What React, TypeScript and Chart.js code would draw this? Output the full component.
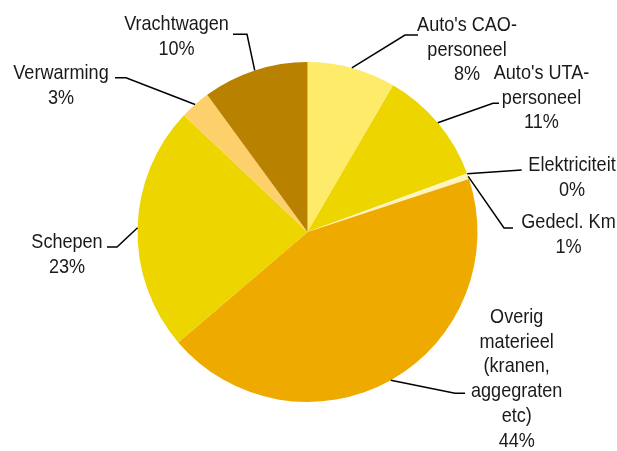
import React, { useEffect, useRef } from "react";
import { Chart, registerables } from "chart.js";

Chart.register(...registerables);

const categories = [
  "Auto's CAO-\npersoneel",
  "Auto's UTA-\npersoneel",
  "Elektriciteit",
  "Gedecl. Km",
  "Overig\nmaterieel\n(kranen,\naggegraten\netc)",
  "Schepen",
  "Verwarming",
  "Vrachtwagen",
];
const values = [8.4, 11.0, 0.05, 0.5, 43.8, 23.3, 2.9, 10.05];
const colors = ["#FFEB6A", "#EDD500", "#FFF3BE", "#FFF3BE", "#EFAA00", "#EDD500", "#FDD06C", "#B98100"];

// label layout (center x, first baseline y), leader elbow & end points
const labelX = [467, 541.5, 572, 568.5, 516.7, 67, 61, 176.5];
const labelY = [31, 79, 171, 228, 323, 248, 79, 30];
const elbowPts = [[405, 35], [493, 103.3], [521.7, 170], [504, 228], [455, 393.3], [117, 247], [126, 77.7], [247, 34.3]];
const endPts = [[418, 35], [499, 103.3], [521.7, 170], [513, 228], [465, 393.3], [107, 247], [115, 77.7], [233, 34.3]];

const LINE_H = 24.7;
const FONT_PX = 21;
const X_SCALE = 0.86;

const labelPlugin = {
  id: "pieLabels",
  afterDraw(chart: any) {
    const ctx = chart.ctx as CanvasRenderingContext2D;
    const meta = chart.getDatasetMeta(0);
    const total = values.reduce((a, b) => a + b, 0);
    meta.data.forEach((arc: any, i: number) => {
      const p = arc.getProps(["x", "y", "startAngle", "endAngle", "outerRadius"], true);
      const mid = (p.startAngle + p.endAngle) / 2;
      const ax = p.x + Math.cos(mid) * p.outerRadius;
      const ay = p.y + Math.sin(mid) * p.outerRadius;
      ctx.save();
      ctx.strokeStyle = "#000";
      ctx.lineWidth = 1.5;
      ctx.beginPath();
      ctx.moveTo(ax, ay);
      ctx.lineTo(elbowPts[i][0], elbowPts[i][1]);
      ctx.lineTo(endPts[i][0], endPts[i][1]);
      ctx.stroke();
      ctx.restore();

      const pct = Math.round((values[i] / total) * 100) + "%";
      const lines = categories[i].split("\n").concat([pct]);
      ctx.save();
      ctx.fillStyle = "#1a1a1a";
      ctx.font = `${FONT_PX}px "Liberation Sans", Arial, sans-serif`;
      ctx.textAlign = "center";
      ctx.textBaseline = "alphabetic";
      lines.forEach((ln, k) => {
        ctx.save();
        ctx.translate(labelX[i], labelY[i] + k * LINE_H);
        ctx.scale(X_SCALE, 1);
        ctx.fillText(ln, 0, 0);
        ctx.restore();
      });
      ctx.restore();
    });
  },
};

export default function App() {
  const ref = useRef<HTMLCanvasElement>(null);
  useEffect(() => {
    document.body.style.margin = "0";
    document.body.style.background = "#fff";
    const chart = new Chart(ref.current as HTMLCanvasElement, {
      type: "pie",
      data: {
        labels: categories.map((c) => c.replace(/\n/g, " ")),
        datasets: [
          {
            data: values,
            backgroundColor: colors,
            borderWidth: 0,
          },
        ],
      },
      options: {
        responsive: false,
        animation: false,
        devicePixelRatio: 1,
        layout: { padding: { top: 62, bottom: 49, left: 137.5, right: 139.5 } },
        plugins: {
          legend: { display: false },
          tooltip: { enabled: false },
          title: { display: false },
        },
      },
      plugins: [labelPlugin],
    } as any);
    return () => chart.destroy();
  }, []);
  return (
    <div style={{ width: 617, height: 451, background: "#fff" }}>
      <canvas ref={ref} width={617} height={451} style={{ display: "block" }} />
    </div>
  );
}
